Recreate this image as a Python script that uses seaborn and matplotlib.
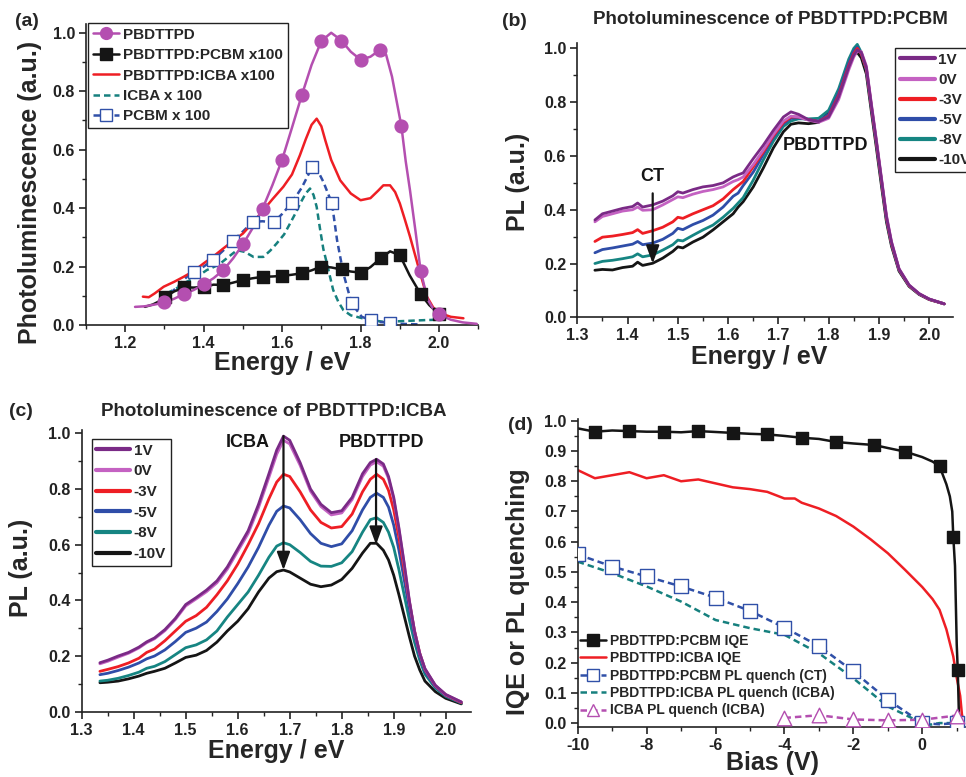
import matplotlib
matplotlib.use("Agg")
import matplotlib.pyplot as plt
from matplotlib.lines import Line2D
from matplotlib.ticker import MultipleLocator, FormatStrFormatter
import seaborn as sns

# ---------------- data: panel (a) ----------------
a_pbdttpd_x = [1.225, 1.25, 1.275, 1.30, 1.325, 1.35, 1.375, 1.40, 1.425, 1.45, 1.475, 1.50, 1.525,
               1.55, 1.575, 1.60, 1.625, 1.65, 1.675, 1.70, 1.725, 1.75, 1.775, 1.80, 1.825, 1.85,
               1.865, 1.88, 1.904, 1.915, 1.926, 1.94, 1.953, 1.97, 1.985, 2.0, 2.03, 2.06, 2.096]
a_pbdttpd_y = [0.062, 0.064, 0.07, 0.077, 0.09, 0.106, 0.12, 0.139, 0.16, 0.188, 0.228, 0.276, 0.332,
               0.398, 0.478, 0.566, 0.675, 0.786, 0.89, 0.972, 1.0, 0.975, 0.935, 0.908, 0.918, 0.942,
               0.925, 0.85, 0.68, 0.56, 0.46, 0.32, 0.186, 0.09, 0.055, 0.036, 0.018, 0.009, 0.004]
a_pbdttpd_mx = [1.30, 1.35, 1.40, 1.45, 1.50, 1.55, 1.60, 1.65, 1.70, 1.75, 1.80, 1.85, 1.904, 1.953, 2.0]
a_pbdttpd_my = [0.077, 0.106, 0.139, 0.188, 0.276, 0.398, 0.566, 0.786, 0.972, 0.972, 0.908, 0.942,
                0.68, 0.186, 0.036]

a_pcbm_blend_x = [1.25, 1.27, 1.285, 1.302, 1.325, 1.351, 1.375, 1.401, 1.425, 1.45, 1.475, 1.50, 1.525,
                  1.551, 1.575, 1.60, 1.625, 1.65, 1.675, 1.70, 1.725, 1.752, 1.775, 1.801, 1.825, 1.851,
                  1.875, 1.90, 1.925, 1.953, 1.975, 2.001]
a_pcbm_blend_y = [0.062, 0.07, 0.08, 0.097, 0.115, 0.129, 0.128, 0.131, 0.138, 0.137, 0.145, 0.154, 0.16,
                  0.165, 0.166, 0.168, 0.172, 0.177, 0.187, 0.2, 0.197, 0.19, 0.183, 0.179, 0.198, 0.228,
                  0.252, 0.239, 0.17, 0.106, 0.068, 0.036]
a_pcbm_blend_mx = [1.302, 1.351, 1.401, 1.45, 1.50, 1.551, 1.60, 1.65, 1.70, 1.752, 1.801, 1.851, 1.90,
                   1.953, 2.001]
a_pcbm_blend_my = [0.097, 0.129, 0.131, 0.137, 0.154, 0.165, 0.168, 0.177, 0.2, 0.19, 0.179, 0.228, 0.239,
                   0.106, 0.036]

a_icba_blend_x = [1.245, 1.26, 1.275, 1.298, 1.325, 1.349, 1.375, 1.40, 1.425, 1.45, 1.475, 1.50, 1.525,
                  1.552, 1.575, 1.603, 1.625, 1.645, 1.66, 1.675, 1.688, 1.70, 1.71, 1.725, 1.748, 1.775,
                  1.80, 1.825, 1.845, 1.858, 1.875, 1.888, 1.90, 1.913, 1.926, 1.947, 1.969, 1.985, 2.003,
                  2.03, 2.062]
a_icba_blend_y = [0.097, 0.095, 0.108, 0.131, 0.148, 0.165, 0.185, 0.211, 0.235, 0.262, 0.288, 0.313, 0.35,
                  0.393, 0.43, 0.473, 0.515, 0.58, 0.635, 0.685, 0.706, 0.68, 0.632, 0.565, 0.495, 0.45,
                  0.427, 0.434, 0.46, 0.478, 0.478, 0.455, 0.416, 0.36, 0.302, 0.20, 0.097, 0.06, 0.04,
                  0.028, 0.023]

a_icba_x = [1.306, 1.33, 1.357, 1.383, 1.408, 1.425, 1.442, 1.465, 1.485, 1.505, 1.527, 1.552, 1.57, 1.586,
            1.605, 1.62, 1.635, 1.646, 1.66, 1.671, 1.68, 1.688, 1.697, 1.705, 1.714, 1.73, 1.743, 1.756,
            1.775, 1.79, 1.82, 1.858, 1.9, 1.969, 2.0]
a_icba_y = [0.108, 0.125, 0.148, 0.165, 0.188, 0.198, 0.21, 0.235, 0.256, 0.25, 0.233, 0.233, 0.255, 0.279,
            0.31, 0.347, 0.385, 0.416, 0.45, 0.467, 0.445, 0.404, 0.325, 0.26, 0.211, 0.12, 0.08, 0.051,
            0.033, 0.028, 0.018, 0.011, 0.013, 0.017, 0.018]

a_pcbm_x = [1.315, 1.34, 1.357, 1.376, 1.40, 1.425, 1.45, 1.474, 1.50, 1.525, 1.55, 1.578, 1.60, 1.625,
            1.65, 1.676, 1.69, 1.705, 1.727, 1.74, 1.756, 1.777, 1.803, 1.826, 1.85, 1.875, 1.9, 1.926, 1.95]
a_pcbm_y = [0.108, 0.14, 0.165, 0.182, 0.2, 0.224, 0.255, 0.288, 0.32, 0.353, 0.355, 0.351, 0.38, 0.419,
            0.47, 0.539, 0.53, 0.49, 0.416, 0.29, 0.177, 0.074, 0.028, 0.017, 0.01, 0.008, 0.004, 0.003, 0.002]
a_pcbm_mx = [1.376, 1.425, 1.474, 1.525, 1.578, 1.625, 1.676, 1.727, 1.777, 1.826, 1.875]
a_pcbm_my = [0.182, 0.224, 0.288, 0.353, 0.351, 0.419, 0.539, 0.416, 0.074, 0.017, 0.008]

a_labels = ["PBDTTPD", "PBDTTPD:PCBM x100", "PBDTTPD:ICBA x100", "ICBA x 100", "PCBM x 100"]

# ---------------- data: panel (b) ----------------
b_energy = [1.335, 1.35, 1.37, 1.39, 1.41, 1.42, 1.43, 1.45, 1.47, 1.49, 1.50, 1.51, 1.53, 1.55, 1.57,
            1.59, 1.61, 1.62, 1.63, 1.65, 1.67, 1.69, 1.71, 1.725, 1.74, 1.76, 1.78, 1.80, 1.82, 1.84,
            1.85, 1.857, 1.865, 1.875, 1.885, 1.895, 1.905, 1.915, 1.925, 1.94, 1.96, 1.98, 2.0, 2.03]
b_1v = [0.362, 0.385, 0.395, 0.405, 0.412, 0.425, 0.410, 0.418, 0.432, 0.452, 0.467, 0.462, 0.475, 0.485,
        0.490, 0.500, 0.522, 0.530, 0.537, 0.590, 0.640, 0.695, 0.745, 0.764, 0.755, 0.735, 0.728, 0.745,
        0.820, 0.930, 0.975, 0.994, 0.985, 0.930, 0.790, 0.655, 0.515, 0.375, 0.280, 0.180, 0.120, 0.088,
        0.068, 0.050]
b_0v = [0.355, 0.375, 0.385, 0.395, 0.400, 0.410, 0.398, 0.400, 0.418, 0.438, 0.448, 0.445, 0.458, 0.468,
        0.475, 0.485, 0.505, 0.512, 0.522, 0.568, 0.622, 0.680, 0.730, 0.748, 0.745, 0.733, 0.725, 0.740,
        0.810, 0.920, 0.968, 0.990, 0.988, 0.935, 0.795, 0.660, 0.520, 0.380, 0.282, 0.181, 0.120, 0.088,
        0.068, 0.050]
b_m3v = [0.282, 0.298, 0.302, 0.308, 0.315, 0.326, 0.312, 0.322, 0.335, 0.355, 0.372, 0.368, 0.385, 0.400,
         0.415, 0.440, 0.475, 0.490, 0.505, 0.560, 0.615, 0.675, 0.725, 0.745, 0.745, 0.735, 0.728, 0.748,
         0.825, 0.935, 0.980, 1.000, 0.980, 0.925, 0.785, 0.650, 0.510, 0.370, 0.275, 0.178, 0.118, 0.087,
         0.067, 0.050]
b_m5v = [0.240, 0.252, 0.258, 0.265, 0.272, 0.282, 0.270, 0.276, 0.290, 0.312, 0.331, 0.326, 0.345, 0.360,
         0.380, 0.410, 0.450, 0.462, 0.490, 0.540, 0.605, 0.670, 0.720, 0.740, 0.742, 0.735, 0.730, 0.755,
         0.835, 0.945, 0.990, 1.005, 0.980, 0.922, 0.782, 0.648, 0.508, 0.368, 0.274, 0.177, 0.118, 0.087,
         0.067, 0.050]
b_m8v = [0.200, 0.208, 0.212, 0.218, 0.225, 0.236, 0.225, 0.232, 0.250, 0.270, 0.287, 0.284, 0.305, 0.325,
         0.343, 0.372, 0.405, 0.425, 0.445, 0.510, 0.585, 0.655, 0.710, 0.730, 0.738, 0.738, 0.740, 0.770,
         0.850, 0.960, 1.000, 1.015, 0.985, 0.920, 0.780, 0.645, 0.505, 0.365, 0.272, 0.176, 0.117, 0.086,
         0.067, 0.050]
b_m10v = [0.175, 0.178, 0.176, 0.185, 0.190, 0.205, 0.193, 0.201, 0.220, 0.245, 0.262, 0.258, 0.280, 0.298,
          0.325, 0.355, 0.385, 0.410, 0.430, 0.485, 0.555, 0.630, 0.690, 0.718, 0.723, 0.720, 0.725, 0.760,
          0.840, 0.940, 0.975, 0.985, 0.965, 0.905, 0.765, 0.630, 0.490, 0.355, 0.265, 0.172, 0.115, 0.085,
          0.066, 0.050]

bias_labels = ["1V", "0V", "-3V", "-5V", "-8V", "-10V"]

# ---------------- data: panel (c) ----------------
c_energy = [1.335, 1.35, 1.37, 1.39, 1.41, 1.425, 1.44, 1.46, 1.48, 1.50, 1.52, 1.54, 1.56, 1.58, 1.60,
            1.62, 1.64, 1.66, 1.675, 1.688, 1.70, 1.72, 1.74, 1.76, 1.78, 1.80, 1.82, 1.84, 1.855, 1.867,
            1.88, 1.89, 1.90, 1.91, 1.92, 1.93, 1.94, 1.95, 1.96, 1.98, 2.0, 2.03]
c_1v = [0.176, 0.185, 0.200, 0.213, 0.232, 0.251, 0.265, 0.295, 0.335, 0.385, 0.410, 0.437, 0.470, 0.520,
        0.585, 0.650, 0.745, 0.855, 0.940, 0.990, 0.975, 0.895, 0.800, 0.745, 0.715, 0.722, 0.770, 0.855,
        0.895, 0.907, 0.890, 0.845, 0.770, 0.660, 0.535, 0.400, 0.290, 0.210, 0.155, 0.095, 0.062, 0.035]
c_0v = [0.172, 0.181, 0.196, 0.210, 0.229, 0.248, 0.262, 0.291, 0.331, 0.380, 0.405, 0.431, 0.463, 0.512,
        0.576, 0.640, 0.733, 0.842, 0.925, 0.975, 0.962, 0.885, 0.792, 0.737, 0.707, 0.714, 0.762, 0.845,
        0.886, 0.898, 0.882, 0.838, 0.764, 0.655, 0.531, 0.397, 0.288, 0.209, 0.154, 0.094, 0.061, 0.035]
c_m3v = [0.145, 0.152, 0.162, 0.175, 0.192, 0.213, 0.225, 0.255, 0.290, 0.325, 0.345, 0.375, 0.420, 0.470,
         0.530, 0.600, 0.675, 0.765, 0.825, 0.853, 0.845, 0.790, 0.725, 0.680, 0.660, 0.665, 0.710, 0.790,
         0.835, 0.853, 0.835, 0.795, 0.725, 0.625, 0.510, 0.395, 0.290, 0.210, 0.152, 0.093, 0.060, 0.033]
c_m5v = [0.133, 0.138, 0.148, 0.160, 0.175, 0.190, 0.200, 0.222, 0.252, 0.285, 0.300, 0.322, 0.360, 0.405,
         0.460, 0.520, 0.590, 0.670, 0.720, 0.739, 0.732, 0.690, 0.640, 0.605, 0.593, 0.603, 0.650, 0.725,
         0.770, 0.785, 0.770, 0.735, 0.670, 0.580, 0.475, 0.370, 0.275, 0.200, 0.145, 0.090, 0.058, 0.032]
c_m8v = [0.110, 0.113, 0.120, 0.130, 0.142, 0.156, 0.163, 0.180, 0.205, 0.230, 0.240, 0.258, 0.290, 0.340,
         0.385, 0.430, 0.490, 0.555, 0.595, 0.607, 0.600, 0.572, 0.540, 0.523, 0.522, 0.535, 0.575, 0.645,
         0.690, 0.697, 0.680, 0.645, 0.590, 0.510, 0.420, 0.330, 0.250, 0.185, 0.135, 0.085, 0.055, 0.031]
c_m10v = [0.104, 0.106, 0.110, 0.118, 0.128, 0.138, 0.145, 0.156, 0.175, 0.195, 0.203, 0.220, 0.250, 0.290,
          0.325, 0.370, 0.430, 0.480, 0.503, 0.509, 0.502, 0.480, 0.458, 0.449, 0.455, 0.475, 0.515, 0.570,
          0.605, 0.605, 0.580, 0.545, 0.490, 0.420, 0.345, 0.270, 0.200, 0.150, 0.110, 0.072, 0.048, 0.028]

# ---------------- data: panel (d) ----------------
d_pcbm_iqe_x = [-10, -9.5, -9, -8.5, -8, -7.5, -7, -6.5, -6, -5.5, -5, -4.5, -4, -3.5, -3, -2.5, -2, -1.4,
                -1, -0.5, 0, 0.3, 0.5, 0.7, 0.8, 0.87, 0.9, 0.95, 1.0, 1.03, 1.07]
d_pcbm_iqe_y = [0.975, 0.964, 0.968, 0.966, 0.964, 0.964, 0.962, 0.966, 0.963, 0.96, 0.957, 0.955, 0.95,
                0.944, 0.94, 0.93, 0.925, 0.92, 0.91, 0.898, 0.88, 0.865, 0.85, 0.79, 0.75, 0.70, 0.617,
                0.52, 0.26, 0.174, 0.0]
d_pcbm_iqe_mx = [-9.5, -8.5, -7.5, -6.5, -5.5, -4.5, -3.5, -2.5, -1.4, -0.5, 0.5, 0.9, 1.03]
d_pcbm_iqe_my = [0.964, 0.966, 0.964, 0.966, 0.96, 0.955, 0.944, 0.93, 0.92, 0.898, 0.85, 0.617, 0.174]

d_icba_iqe_x = [-10, -9.5, -9, -8.5, -8, -7.5, -7, -6.5, -6, -5.5, -5, -4.5, -4, -3.7, -3.5, -3, -2.5,
                -2, -1.5, -1, -0.5, 0, 0.3, 0.5, 0.7, 0.9, 1.0, 1.1, 1.15, 1.21]
d_icba_iqe_y = [0.837, 0.81, 0.82, 0.83, 0.81, 0.82, 0.80, 0.806, 0.793, 0.78, 0.774, 0.765, 0.743, 0.743,
                0.729, 0.71, 0.685, 0.65, 0.608, 0.562, 0.507, 0.45, 0.41, 0.375, 0.31, 0.22, 0.15, 0.09,
                0.03, -0.01]

d_pcbm_q_x = [-10, -9, -8, -7, -6, -5, -4, -3, -2, -1, 0, 0.5, 1]
d_pcbm_q_y = [0.558, 0.518, 0.485, 0.452, 0.415, 0.371, 0.316, 0.255, 0.171, 0.077, 0.0, -0.004, 0.0]
d_pcbm_q_mx = [-10, -9, -8, -7, -6, -5, -4, -3, -2, -1, 0, 1]
d_pcbm_q_my = [0.558, 0.518, 0.485, 0.452, 0.415, 0.371, 0.316, 0.255, 0.171, 0.077, 0.0, 0.0]

d_icba_q_x = [-10, -9, -8, -7, -6, -5, -4, -3, -2, -1, 0, 0.25, 0.5, 1.0]
d_icba_q_y = [0.534, 0.496, 0.452, 0.402, 0.341, 0.314, 0.292, 0.231, 0.148, 0.055, 0.0, -0.005, 0.0, 0.0]

d_icba_only_x = [-4, -3, -2, -1, 0, 1]
d_icba_only_y = [0.017, 0.026, 0.012, 0.009, 0.011, 0.025]

d_labels = ["PBDTTPD:PCBM IQE", "PBDTTPD:ICBA IQE", "PBDTTPD:PCBM PL quench (CT)",
            "PBDTTPD:ICBA PL quench (ICBA)", "ICBA PL quench (ICBA)"]

# ---------------- style ----------------
sns.set_style("ticks")
plt.rcParams["font.family"] = ["Liberation Sans", "DejaVu Sans"]
plt.rcParams["font.weight"] = "bold"
plt.rcParams["axes.labelweight"] = "bold"
plt.rcParams["axes.linewidth"] = 1.2

MAG = "#B44FB0"
RED = "#EE1E24"
TEAL = "#16807E"
BLUE = "#3050A8"
BLK = "#151515"
PURP = "#7A2A86"
PINK = "#C462C2"
BLUE2 = "#2F4DA8"
TEAL2 = "#168582"
DASH = (0, (2.6, 1.6))

W, H = 966, 777
fig = plt.figure(figsize=(W / 100, H / 100), dpi=100)


def add_ax(left, top, right, bottom):
    return fig.add_axes([left / W, 1 - bottom / H, (right - left) / W, (bottom - top) / H])


def style(ax, xlim, ylim, xmaj, xmin, ymaj, ymin, xfmt="%.1f", yfmt="%.1f"):
    ax.set_xlim(*xlim)
    ax.set_ylim(*ylim)
    ax.xaxis.set_major_locator(MultipleLocator(xmaj))
    ax.xaxis.set_minor_locator(MultipleLocator(xmin))
    ax.yaxis.set_major_locator(MultipleLocator(ymaj))
    ax.yaxis.set_minor_locator(MultipleLocator(ymin))
    ax.xaxis.set_major_formatter(FormatStrFormatter(xfmt))
    ax.yaxis.set_major_formatter(FormatStrFormatter(yfmt))
    for sp in ["top", "right"]:
        ax.spines[sp].set_visible(False)
    for sp in ["left", "bottom"]:
        ax.spines[sp].set_linewidth(1.2)
        ax.spines[sp].set_color("#222222")
    ax.tick_params(which="major", direction="out", length=5, width=1.2, labelsize=11.5, pad=3,
                   colors="#222222")
    ax.tick_params(which="minor", direction="out", length=3, width=1.0, colors="#222222")
    ax.set_xlabel("")
    ax.set_ylabel("")


def line(ax, x, y, color, lw=1.8, ls="-", z=2):
    sns.lineplot(x=x, y=y, ax=ax, color=color, lw=lw, linestyle=ls, sort=False,
                 estimator=None, legend=False, zorder=z)


def marks(ax, x, y, marker, face, edge, s, z=4, lw=1.0):
    sns.scatterplot(x=x, y=y, ax=ax, marker=marker, color=face, edgecolor=edge, s=s,
                    linewidth=lw, legend=False, zorder=z)


# ---------------- panel (a) ----------------
axa = add_ax(86, 24, 478.3, 325)
line(axa, a_icba_x, a_icba_y, TEAL, 1.8, DASH)
line(axa, a_pcbm_x, a_pcbm_y, BLUE, 1.8, DASH)
line(axa, a_icba_blend_x, a_icba_blend_y, RED, 1.8)
line(axa, a_pcbm_blend_x, a_pcbm_blend_y, BLK, 1.8)
line(axa, a_pbdttpd_x, a_pbdttpd_y, MAG, 1.8, "-", 3)
marks(axa, a_pcbm_blend_mx, a_pcbm_blend_my, "s", BLK, BLK, 75, 4)
marks(axa, a_pcbm_mx, a_pcbm_my, "s", "white", BLUE, 75, 4, 1.0)
marks(axa, a_pbdttpd_mx, a_pbdttpd_my, "o", MAG, MAG, 85, 5)
style(axa, (1.1, 2.1), (0, 1.03), 0.2, 0.1, 0.2, 0.1)
axa.set_xlabel("Energy / eV", fontsize=18)
axa.set_ylabel("Photoluminescence (a.u.)", fontsize=18)
axa.xaxis.set_label_coords(0.5, -0.085)
axa.yaxis.set_label_coords(-0.112, 0.44)
ha = [Line2D([], [], color=MAG, lw=1.8, marker="o", ms=8.5, mfc=MAG, mec=MAG),
      Line2D([], [], color=BLK, lw=1.8, marker="s", ms=8, mfc=BLK, mec=BLK),
      Line2D([], [], color=RED, lw=1.8),
      Line2D([], [], color=TEAL, lw=1.8, ls=DASH),
      Line2D([], [], color=BLUE, lw=1.8, ls=DASH, marker="s", ms=8, mfc="white", mec=BLUE)]
lga = axa.legend(ha, a_labels, loc="upper left", bbox_to_anchor=(0.005, 1.003), fontsize=11,
                 frameon=True, fancybox=False, framealpha=1, edgecolor="#222222", borderaxespad=0,
                 borderpad=0.3, labelspacing=0.42, handlelength=1.7, handletextpad=0.3)
lga.get_frame().set_linewidth(1.0)

# ---------------- panel (b) ----------------
axb = add_ax(577.3, 43.3, 953.3, 317.3)
b_series = [b_1v, b_0v, b_m3v, b_m5v, b_m8v, b_m10v]
b_colors = [PURP, PINK, RED, BLUE2, TEAL2, BLK]
for i in range(len(b_series) - 1, -1, -1):
    line(axb, b_energy, b_series[i], b_colors[i], 2.0, "-", 2 + (6 - i) * 0.01)
style(axb, (1.3, 2.048), (0, 1.019), 0.1, 0.05, 0.2, 0.1)
axb.set_xlabel("Energy / eV", fontsize=18)
axb.set_ylabel("PL (a.u.)", fontsize=18)
axb.xaxis.set_label_coords(0.484, -0.1)
axb.yaxis.set_label_coords(-0.125, 0.496)
axb.annotate("", xy=(1.45, 0.2), xytext=(1.45, 0.461),
             arrowprops=dict(arrowstyle="-|>,head_length=0.6,head_width=0.22", color=BLK, lw=1.6,
                             mutation_scale=18, shrinkA=0, shrinkB=0))
axb.text(1.45, 0.523, "CT", ha="center", va="center", fontsize=13, fontweight="bold", color=BLK)
axb.text(1.793, 0.638, "PBDTTPD", ha="center", va="center", fontsize=13, fontweight="bold", color=BLK)
hb = [Line2D([], [], color=c, lw=3) for c in b_colors]
lgb = axb.legend(hb, bias_labels, loc="upper left", bbox_to_anchor=(0.846, 0.982), fontsize=11,
                 frameon=True, fancybox=False, framealpha=1, edgecolor="#222222", borderaxespad=0,
                 borderpad=0.3, labelspacing=0.4, handlelength=2.3, handletextpad=0.2)
lgb.get_frame().set_linewidth(1.0)

# ---------------- panel (c) ----------------
axc = add_ax(81.7, 430, 470.7, 711.7)
c_series = [c_1v, c_0v, c_m3v, c_m5v, c_m8v, c_m10v]
for i in range(len(c_series) - 1, -1, -1):
    line(axc, c_energy, c_series[i], b_colors[i], 2.0, "-", 2 + (6 - i) * 0.01)
style(axc, (1.3, 2.048), (0, 1.012), 0.1, 0.05, 0.2, 0.1)
axc.set_xlabel("Energy / eV", fontsize=18)
axc.set_ylabel("PL (a.u.)", fontsize=18)
axc.xaxis.set_label_coords(0.5, -0.098)
axc.yaxis.set_label_coords(-0.126, 0.51)
for (ax0, y0, y1) in [(1.688, 0.99, 0.509), (1.866, 0.907, 0.60)]:
    axc.annotate("", xy=(ax0, y1), xytext=(ax0, y0),
                 arrowprops=dict(arrowstyle="-|>,head_length=0.6,head_width=0.22", color=BLK, lw=1.6,
                                 mutation_scale=18, shrinkA=0, shrinkB=0), zorder=6)
axc.text(1.62, 0.968, "ICBA", ha="center", va="center", fontsize=13, fontweight="bold", color=BLK)
axc.text(1.877, 0.968, "PBDTTPD", ha="center", va="center", fontsize=13, fontweight="bold", color=BLK)
hc = [Line2D([], [], color=c, lw=3) for c in b_colors]
lgc = axc.legend(hc, bias_labels, loc="upper left", bbox_to_anchor=(0.026, 0.968), fontsize=11,
                 frameon=True, fancybox=False, framealpha=1, edgecolor="#222222", borderaxespad=0,
                 borderpad=0.3, labelspacing=0.44, handlelength=2.2, handletextpad=0.25)
lgc.get_frame().set_linewidth(1.0)

# ---------------- panel (d) ----------------
axd = add_ax(577.7, 419.3, 965, 726.7)
line(axd, d_icba_q_x, d_icba_q_y, TEAL, 1.8, DASH)
line(axd, d_pcbm_q_x, d_pcbm_q_y, BLUE, 1.8, DASH)
line(axd, d_icba_only_x, d_icba_only_y, MAG, 1.8, DASH)
line(axd, d_icba_iqe_x, d_icba_iqe_y, RED, 1.8)
line(axd, d_pcbm_iqe_x, d_pcbm_iqe_y, BLK, 1.8)
marks(axd, d_pcbm_q_mx, d_pcbm_q_my, "s", "white", BLUE, 95, 4, 1.0)
marks(axd, d_icba_only_x, d_icba_only_y, "^", "white", MAG, 110, 4, 1.0)
marks(axd, d_pcbm_iqe_mx, d_pcbm_iqe_my, "s", BLK, BLK, 85, 5)
style(axd, (-10, 1.24), (-0.012, 1.005), 2, 1, 0.1, 0.05, xfmt="%d")
axd.set_xlabel("Bias (V)", fontsize=18)
axd.set_ylabel("IQE or PL quenching", fontsize=18)
axd.xaxis.set_label_coords(0.503, -0.08)
axd.yaxis.set_label_coords(-0.124, 0.44)
hd = [Line2D([], [], color=BLK, lw=1.8, marker="s", ms=8.5, mfc=BLK, mec=BLK),
      Line2D([], [], color=RED, lw=1.8),
      Line2D([], [], color=BLUE, lw=1.8, ls=DASH, marker="s", ms=8.5, mfc="white", mec=BLUE),
      Line2D([], [], color=TEAL, lw=1.8, ls=DASH),
      Line2D([], [], color=MAG, lw=1.8, ls=DASH, marker="^", ms=9, mfc="white", mec=MAG)]
axd.legend(hd, d_labels, loc="lower left", bbox_to_anchor=(0.005, 0.03), fontsize=10,
           frameon=False, borderaxespad=0, borderpad=0, labelspacing=0.25, handlelength=1.9,
           handletextpad=0.3)

# ---------------- titles & panel letters ----------------
fig.text(770 / W, 1 - 20 / H, "Photoluminescence of PBDTTPD:PCBM", ha="center", va="center",
         fontsize=13.5, fontweight="bold")
fig.text(274 / W, 1 - 411 / H, "Photoluminescence of PBDTTPD:ICBA", ha="center", va="center",
         fontsize=13.5, fontweight="bold")
for lab, x, y in [("(a)", 26.5, 22), ("(b)", 514, 22), ("(c)", 21, 412), ("(d)", 520, 426)]:
    fig.text(x / W, 1 - y / H, lab, ha="center", va="center", fontsize=14, fontweight="bold")

fig.savefig("out.png", dpi=100)
